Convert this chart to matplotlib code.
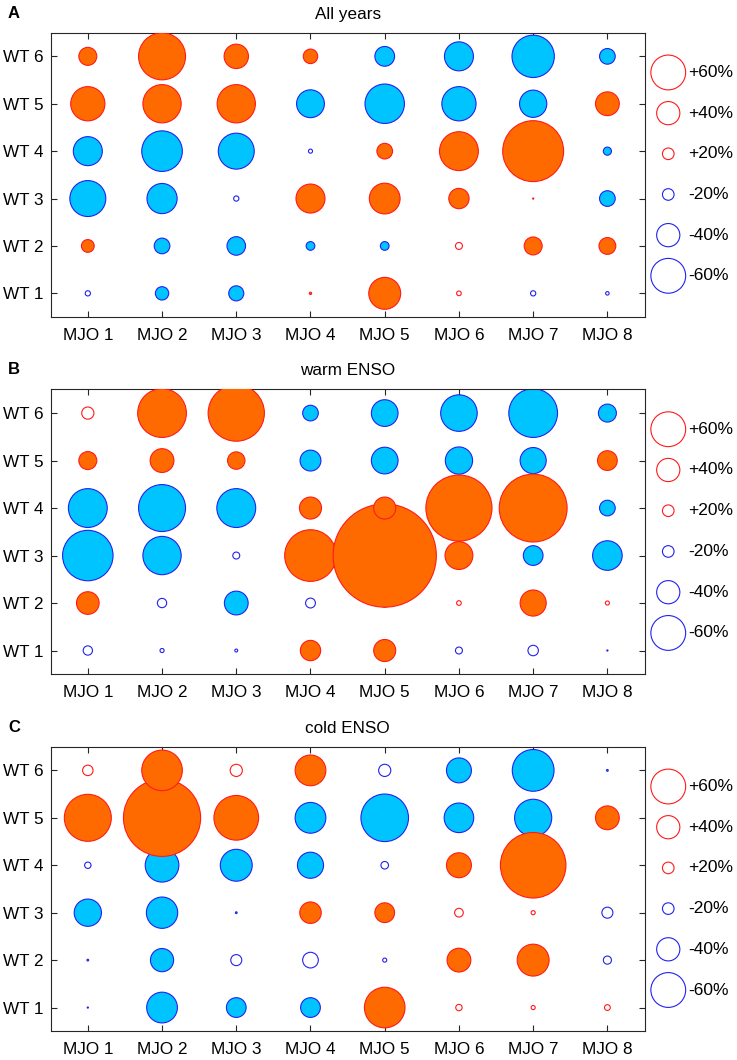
"""
Bubble chart of WT frequency anomalies per MJO phase
(all years, warm ENSO, cold ENSO)
"""
import numpy as np
import matplotlib
matplotlib.use('Agg')
import matplotlib.pyplot as plt

plt.rcParams['font.family'] = ['Liberation Sans', 'DejaVu Sans']

mjo_labels = ['MJO 1', 'MJO 2', 'MJO 3', 'MJO 4', 'MJO 5', 'MJO 6', 'MJO 7', 'MJO 8']
wt_labels = ['WT 1', 'WT 2', 'WT 3', 'WT 4', 'WT 5', 'WT 6']
titles = ['All years', 'warm ENSO', 'cold ENSO']
panel_tags = ['A', 'B', 'C']

# anomaly [%], rows WT 6 (top) .. WT 1 (bottom), columns MJO 1..8
anom_all = [
    [31, 81, 42, 25, -34, -50, -73, -27],
    [59, 66, 66, -48, -68, -59, -47, 41],
    [-50, -70, -62, -7, 27, 67, 105, -14],
    [-62, -52, -9, 50, 53, 35, 2, -27],
    [22, -27, -32, -15, -15, 12, 31, 29],
    [-9, -23, -26, 4, 55, 8, -9, -6],
]
anom_warm = [
    [21, 84, 97, -27, -46, -63, -84, -31],
    [31, 41, 30, -36, -46, -47, -45, 34],
    [-67, -81, -67, 38, 38, 114, 117, -27],
    [-87, -66, -12, 89, 178, 48, -34, -51],
    [39, -16, -41, -17, -14, 8, 45, 7],
    [-16, -7, -5, 35, 38, -12, -18, -2],
]
anom_cold = [
    [18, 70, 21, 53, -21, -43, -72, -3],
    [81, 133, 77, -53, -82, -51, -64, 41],
    [-11, -58, -55, -45, -13, 43, 113, 0],
    [-47, -54, -3, 37, 34, 15, 7, -19],
    [-3, -40, -19, -27, -7, 41, 55, -14],
    [-2, -53, -34, -34, 70, 11, 7, 10],
]

# 1 = significant (filled), 0 = not significant (open)
sig_all = [
    [1, 1, 1, 1, 1, 1, 1, 1],
    [1, 1, 1, 1, 1, 1, 1, 1],
    [1, 1, 1, 0, 1, 1, 1, 1],
    [1, 1, 0, 1, 1, 1, 1, 1],
    [1, 1, 1, 1, 1, 0, 1, 1],
    [0, 1, 1, 1, 1, 0, 0, 0],
]
sig_warm = [
    [0, 1, 1, 1, 1, 1, 1, 1],
    [1, 1, 1, 1, 1, 1, 1, 1],
    [1, 1, 1, 1, 1, 1, 1, 1],
    [1, 1, 0, 1, 1, 1, 1, 1],
    [1, 0, 1, 0, 0, 0, 1, 0],
    [0, 0, 0, 1, 1, 0, 0, 0],
]
sig_cold = [
    [0, 1, 0, 1, 0, 1, 1, 1],
    [1, 1, 1, 1, 1, 1, 1, 1],
    [0, 1, 1, 1, 0, 1, 1, 0],
    [1, 1, 1, 1, 1, 0, 0, 0],
    [1, 1, 0, 0, 0, 1, 1, 0],
    [1, 1, 1, 1, 1, 0, 0, 0],
]

legend_vals = [60, 40, 20, -20, -40, -60]
legend_text = ['+60%', '+40%', '+20%', '-20%', '-40%', '-60%']

pos_face, pos_edge = '#FF6A00', '#FF1A1A'
neg_face, neg_edge = '#00C4FF', '#2222EE'

DPI = 100
px_per_pct = 0.29  # bubble radius in pixels per percent


def bubble_size(v):
    r_pt = px_per_pct * np.abs(np.asarray(v, dtype=float)) * 72.0 / DPI
    return (2 * r_pt) ** 2


fig = plt.figure(figsize=(7.37, 10.6), dpi=DPI)

ax_rect = [
    [0.0688, 0.7009, 0.8057, 0.2683],
    [0.0688, 0.3639, 0.8057, 0.2688],
    [0.0688, 0.0271, 0.8057, 0.2685],
]

datasets = [(anom_all, sig_all), (anom_warm, sig_warm), (anom_cold, sig_cold)]

for k, (anom, sig) in enumerate(datasets):
    ax = fig.add_axes(ax_rect[k])
    a = np.array(anom, dtype=float)[::-1]   # row 0 -> WT 1
    s = np.array(sig)[::-1]
    yy, xx = np.mgrid[1:7, 1:9]

    # negatives first, then positives on top
    for positive, z in [(False, 2), (True, 3)]:
        face = pos_face if positive else neg_face
        edge = pos_edge if positive else neg_edge
        msk = (a > 0) if positive else (a < 0)
        for filled in [0, 1]:
            m = msk & (s == filled)
            ax.scatter(xx[m], yy[m], s=bubble_size(a[m]),
                       facecolors=face if filled else 'none',
                       edgecolors=edge, linewidths=0.8, zorder=z)

    # size legend to the right of the axes
    ly = np.linspace(5.66, 1.37, len(legend_vals))
    for v, txt, y in zip(legend_vals, legend_text, ly):
        ax.scatter([8.82], [y], s=bubble_size(v), facecolors='none',
                   edgecolors=pos_edge if v > 0 else neg_edge,
                   linewidths=0.8, clip_on=False, zorder=4)
        ax.text(9.09, y, txt, fontsize=12.5, va='center', ha='left')

    ax.set_xlim(0.5, 8.5)
    ax.set_ylim(0.5, 6.5)
    ax.set_xticks(np.arange(1, 9))
    ax.set_xticklabels(mjo_labels)
    ax.set_yticks(np.arange(1, 7))
    ax.set_yticklabels(wt_labels)
    ax.tick_params(direction='in', length=4.5, width=0.8, color='#262626',
                   top=True, right=True, labelsize=12.3)
    ax.tick_params(axis='x', pad=8)
    ax.tick_params(axis='y', pad=5)
    for sp in ax.spines.values():
        sp.set_color('#262626')
        sp.set_linewidth(0.8)

    ax.set_title(titles[k], fontsize=12.3, pad=10)
    ax.text(-0.072, 1.068, panel_tags[k], transform=ax.transAxes,
            fontsize=12, fontweight='bold', va='center', ha='left')

fig.savefig('out.png', dpi=DPI)
